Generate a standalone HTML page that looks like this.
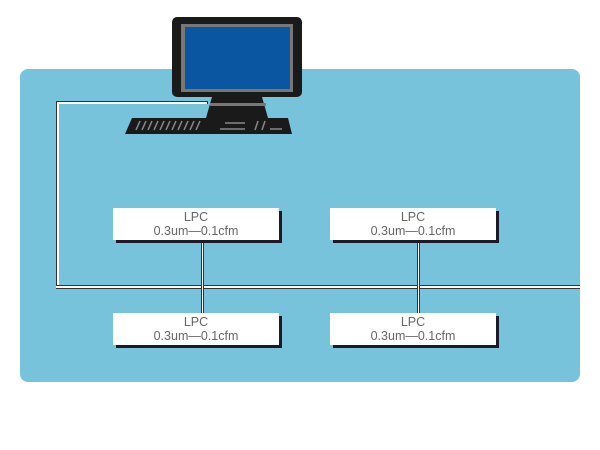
<!DOCTYPE html>
<html><head><style>
body{margin:0;width:600px;height:450px;background:#fff;position:relative;overflow:hidden;font-family:"Liberation Sans",sans-serif}
.panel{position:absolute;left:20px;top:69px;width:560px;height:313px;background:#77c3dc;border-radius:8px}
.box{position:absolute;width:166px;height:32px;background:#fff;box-shadow:3px 3px 0 #1a1a28;text-align:center;font-size:12.5px;line-height:14px;color:#666;padding-top:2px;box-sizing:border-box}
.l{position:absolute;background:#fff;border:1px solid #333}
</style></head><body>
<div class="panel"></div>
<div class="l" style="left:56px;top:101px;width:2px;height:186px;border-right:none"></div>
<div class="l" style="left:56px;top:101px;width:150px;height:2px;border-bottom:none"></div>
<div class="l" style="left:56px;top:285px;width:524px;height:2px;border-left:none;border-right:none"></div>
<div class="l" style="left:201px;top:243px;width:1px;height:70px;border-top:none;border-bottom:none"></div>
<div class="l" style="left:417px;top:243px;width:1px;height:70px;border-top:none;border-bottom:none"></div>
<div class="box" style="left:113px;top:208px">LPC<br>0.3um—0.1cfm</div>
<div class="box" style="left:330px;top:208px">LPC<br>0.3um—0.1cfm</div>
<div class="box" style="left:113px;top:313px">LPC<br>0.3um—0.1cfm</div>
<div class="box" style="left:330px;top:313px">LPC<br>0.3um—0.1cfm</div>
<svg style="position:absolute;left:0;top:0" width="600" height="450">
<rect x="172" y="17" width="130" height="80" rx="5" fill="#1a1a1a"/>
<rect x="181" y="24" width="112" height="68" fill="#777"/>
<rect x="185" y="27" width="105" height="62" fill="#0a56a0"/>
<polygon points="212,97 262,97 268,118 206,118" fill="#1a1a1a"/>
<rect x="210" y="103" width="56" height="3" fill="#777"/>
<polygon points="132,118 288,118 292,134 125,134" fill="#1a1a1a"/>
<g stroke="#888" stroke-width="1.5">
<line x1="136" y1="130" x2="140" y2="121"/><line x1="142" y1="130" x2="146" y2="121"/><line x1="148" y1="130" x2="152" y2="121"/><line x1="154" y1="130" x2="158" y2="121"/><line x1="160" y1="130" x2="164" y2="121"/><line x1="166" y1="130" x2="170" y2="121"/><line x1="172" y1="130" x2="176" y2="121"/><line x1="178" y1="130" x2="182" y2="121"/><line x1="184" y1="130" x2="188" y2="121"/><line x1="190" y1="130" x2="194" y2="121"/><line x1="196" y1="130" x2="200" y2="121"/>
<line x1="225" y1="123" x2="245" y2="123"/><line x1="220" y1="129" x2="245" y2="129"/><line x1="255" y1="130" x2="258" y2="121"/><line x1="262" y1="130" x2="265" y2="121"/><line x1="270" y1="129" x2="282" y2="129"/>
</g>
</svg>
</body></html>
